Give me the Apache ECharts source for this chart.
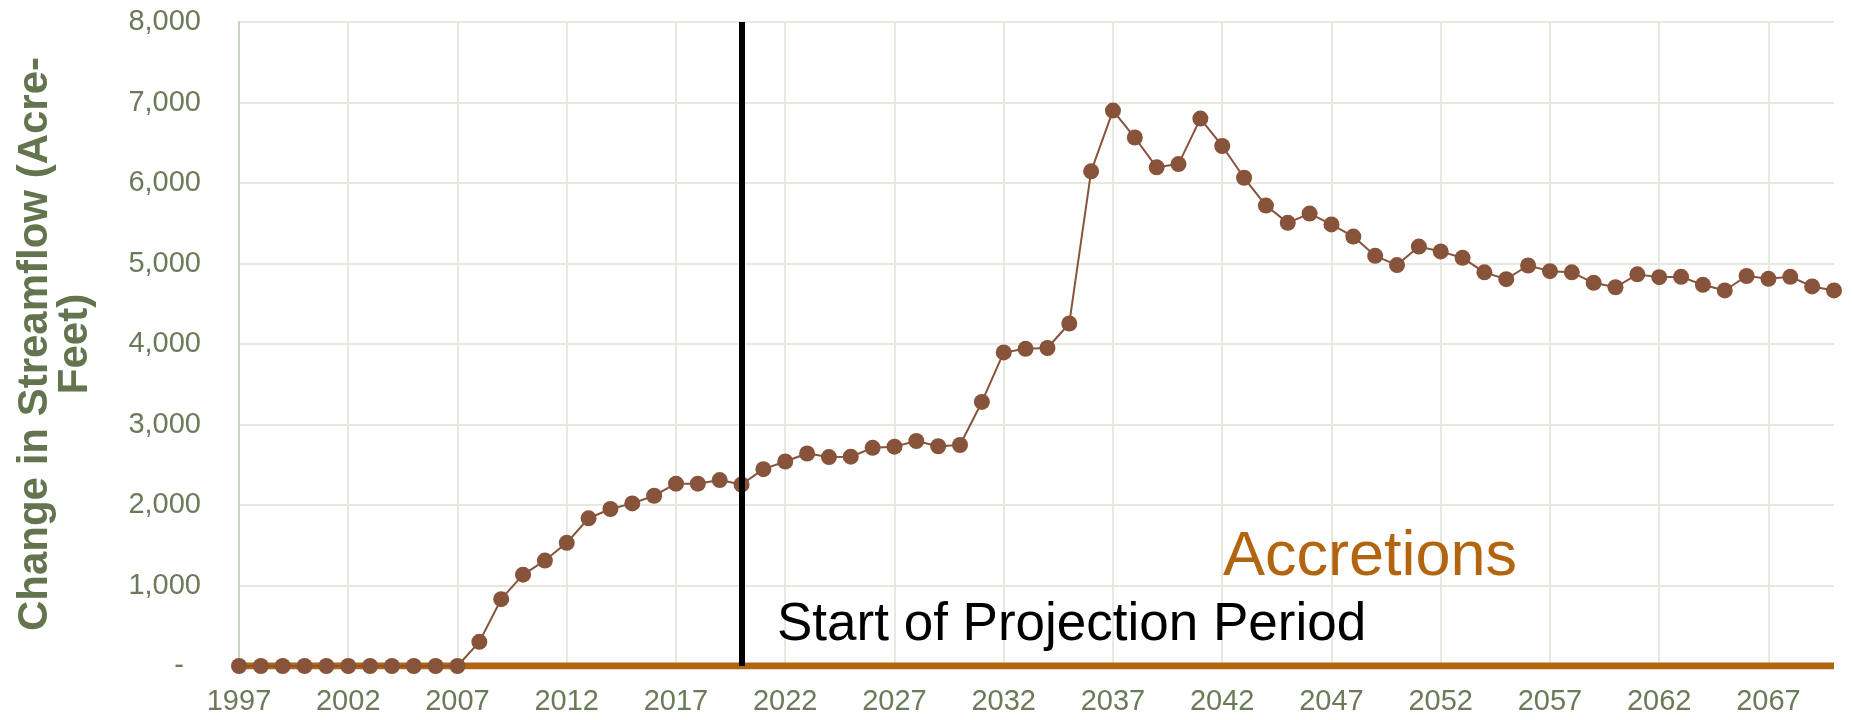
<!DOCTYPE html>
<html>
<head>
<meta charset="utf-8">
<script src="https://cdn.jsdelivr.net/npm/echarts@6/dist/echarts.min.js"></script>
<style>
  html, body { margin: 0; padding: 0; background: #ffffff; }
  #chart { width: 1852px; height: 720px; }
</style>
</head>
<body>
<div id="chart"></div>
<script>
// ---- Data ----
var startYear = 1997;
var endYear = 2070;
var years = [];
for (var y = startYear; y <= endYear; y++) years.push(String(y));

var streamflowChange = [
  0, 0, 0, 0, 0, 0, 0, 0, 0, 0, 0,            // 1997-2007
  300, 830, 1135, 1310, 1530, 1835, 1950, 2020, 2115, 2265, // 2008-2017
  2265, 2310, 2255, 2445, 2540, 2640, 2595, 2600, 2710, 2725, // 2018-2027
  2795, 2730, 2745, 3280, 3895, 3940, 3950, 4255, 6145, 6900, // 2028-2037
  6565, 6195, 6235, 6800, 6460, 6065, 5720, 5505, 5620, 5485, // 2038-2047
  5335, 5095, 4980, 5210, 5150, 5070, 4890, 4805, 4975, 4905, // 2048-2057
  4890, 4760, 4705, 4865, 4830, 4835, 4735, 4665, 4845, 4810, // 2058-2067
  4835, 4715, 4665                                           // 2068-2070
];

var accretions = [
  0, 0, 0, 0, 0, 0, 0, 0, 0, 0,
  0, 0, 0, 0, 0, 0, 0, 0, 0, 0,
  0, 0, 0, 0, 0, 0, 0, 0, 0, 0,
  0, 0, 0, 0, 0, 0, 0, 0, 0, 0,
  0, 0, 0, 0, 0, 0, 0, 0, 0, 0,
  0, 0, 0, 0, 0, 0, 0, 0, 0, 0,
  0, 0, 0, 0, 0, 0, 0, 0, 0, 0,
  0, 0, 0, 0
];

var projectionStartYear = '2020';
var yAxisTitle = 'Change in Streamflow (Acre-\nFeet)';
var projectionLabel = 'Start of Projection Period';
var accretionsLabel = 'Accretions';

// ---- Styles ----
var tickColor = '#6B7A57';
var titleColor = '#63744F';
var gridColor = '#E8E8E1';
var dotColor = '#87533A';
var accColor = '#B3640F';
var tickFont = "'Liberation Sans', Arial, sans-serif";
var mainFont = "'Liberation Sans', Arial, sans-serif";

var chart = echarts.init(document.getElementById('chart'), null, { renderer: 'canvas' });

chart.setOption({
  animation: false,
  backgroundColor: '#ffffff',
  grid: { left: 239, right: 18, top: 22, bottom: 54, containLabel: false },
  xAxis: {
    type: 'category',
    data: years,
    boundaryGap: false,
    axisLine: { show: false },
    axisTick: { show: false },
    axisLabel: {
      interval: 4,
      color: tickColor,
      fontFamily: tickFont,
      fontSize: 29,
      margin: 21
    },
    splitLine: { show: true, interval: 4, lineStyle: { color: gridColor, width: 2 } }
  },
  yAxis: {
    type: 'value',
    min: 0,
    max: 8000,
    interval: 1000,
    name: yAxisTitle,
    nameLocation: 'middle',
    nameGap: 144,
    nameRotate: 90,
    nameTextStyle: {
      color: titleColor,
      fontFamily: mainFont,
      fontWeight: 'bold',
      fontSize: 42,
      lineHeight: 40,
      align: 'center'
    },
    axisLine: { show: true, lineStyle: { color: '#C9D2C1', width: 2 } },
    axisTick: { show: false },
    axisLabel: {
      color: tickColor,
      fontFamily: tickFont,
      fontSize: 29,
      margin: 38,
      formatter: function (v) {
        if (v === 0) return '{dash|-}';
        return v.toLocaleString('en-US');
      },
      rich: {
        dash: { color: tickColor, fontFamily: tickFont, fontSize: 29, padding: [0, 17, 0, 0] }
      }
    },
    splitLine: { show: true, lineStyle: { color: gridColor, width: 2 } }
  },
  series: [
    {
      name: 'Accretions',
      type: 'line',
      data: accretions,
      symbol: 'none',
      lineStyle: { color: accColor, width: 7 },
      z: 2
    },
    {
      name: 'Change in Streamflow',
      type: 'line',
      data: streamflowChange,
      symbol: 'circle',
      symbolSize: 16,
      showSymbol: true,
      showAllSymbol: true,
      itemStyle: { color: dotColor },
      lineStyle: { color: dotColor, width: 2 },
      z: 3
    },
    {
      name: 'Projection Start',
      type: 'line',
      data: [],
      z: 4,
      markLine: {
        silent: true,
        symbol: ['none', 'none'],
        label: { show: false },
        lineStyle: { color: '#000000', width: 6, type: 'solid' },
        data: [{ xAxis: projectionStartYear }]
      }
    }
  ],
  graphic: [
    {
      type: 'text',
      z: 100,
      left: 777,
      top: 599,
      style: {
        text: projectionLabel,
        fill: '#000000',
        font: "53px 'Liberation Sans', Arial, sans-serif"
      }
    },
    {
      type: 'text',
      z: 100,
      left: 1223,
      top: 526,
      style: {
        text: accretionsLabel,
        fill: accColor,
        font: "63px 'Liberation Sans', Arial, sans-serif"
      }
    }
  ]
});
</script>
</body>
</html>
